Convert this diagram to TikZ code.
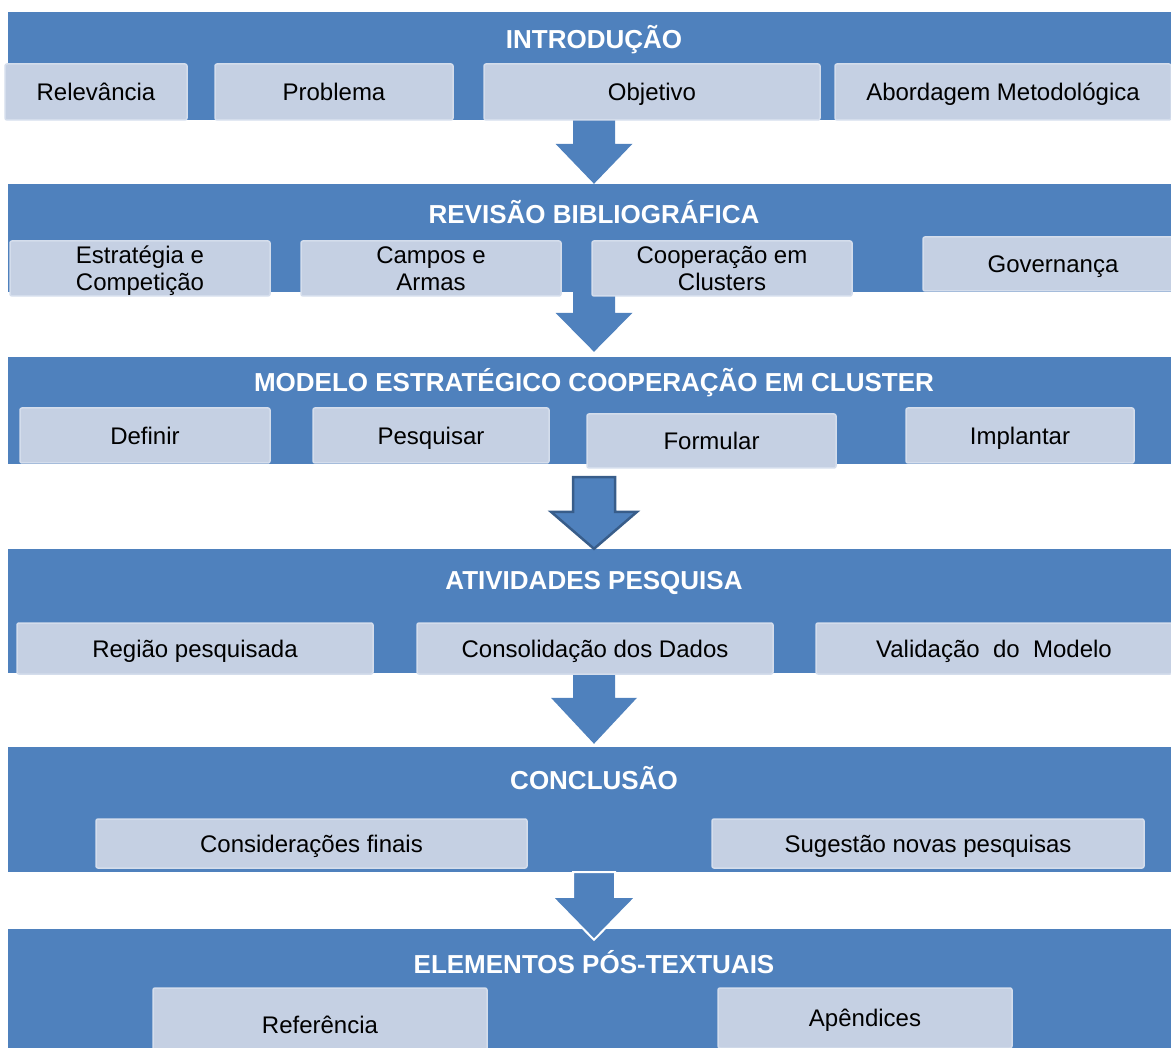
\documentclass[tikz,border=0pt]{standalone}
\usepackage{fontspec}
\setmainfont{Liberation Sans}
\usepackage{tikz}
\usetikzlibrary{calc}
\definecolor{bandblue}{RGB}{79,129,189}
\definecolor{boxfill}{RGB}{197,208,227}
\definecolor{boxline}{RGB}{212,221,236}
\definecolor{arrowline}{RGB}{56,93,138}
\tikzset{
  band/.style={
    rectangle, fill=bandblue, minimum width=1172pt, inner sep=0pt
  },
  bandtitle/.style={font=\fontsize{26}{30}\selectfont\bfseries, text=white, inner sep=0pt},
  item/.style={
    rectangle, fill=boxfill, draw=boxline, line width=1.5pt, rounded corners=2pt,
    inner sep=2pt, text depth=0pt, align=center, font=\fontsize{24}{27}\selectfont
  },
  flowarrow/.style={fill=bandblue, line join=miter},
}
% block arrow: [style]{tail}{tip}{head length}{head half width}
\newcommand{\bandarrow}[5][]{%
  \path[flowarrow,#1] ($(#2)+(-21,0)$) -- ($(#2)+(21,0)$) -- ($(#3)+(21,-#4)$)
    -- ($(#3)+(#5,-#4)$) -- (#3) -- ($(#3)+(-#5,-#4)$) -- ($(#3)+(-21,-#4)$) -- cycle;}

\begin{document}
\begin{tikzpicture}[x=1pt, y=-1pt]
  \useasboundingbox (0,0) rectangle (1171,1048);
  \clip (0,0) rectangle (1171,1048);

  % bands
  \node[band, minimum height=108pt] (b1) at (594,66) {};
  \node[band, minimum height=108pt] (b2) at (594,238) {};
  \node[band, minimum height=107pt] (b3) at (594,410.5) {};
  \node[band, minimum height=124pt] (b4) at (594,611) {};
  \node[band, minimum height=125pt] (b5) at (594,809.5) {};
  \node[band, minimum height=131pt] (b6) at (594,994.5) {};

  \node[bandtitle] (t1) at (594,40) {INTRODUÇÃO};
  \node[bandtitle] (t2) at (594,212) {REVISÃO BIBLIOGRÁFICA};
  \node[bandtitle] (t3) at (594,383) {MODELO ESTRATÉGICO COOPERAÇÃO EM CLUSTER};
  \node[bandtitle] (t4) at (594,583) {ATIVIDADES PESQUISA};
  \node[bandtitle] (t5) at (594,778) {CONCLUSÃO};
  \node[bandtitle] (t6) at (594,962) {ELEMENTOS PÓS-TEXTUAIS};

  % arrows between the bands
  \coordinate (tip2) at ($(b3.north)+(0,-5)$);
  \coordinate (tail3) at ($(b3.south)+(0,13)$);
  \coordinate (tip4) at ($(b5.north)+(0,-3)$);
  \coordinate (tip5) at ($(b6.north)+(0,11)$);
  \bandarrow{b1.south}{b2.north}{40}{38.5}
  \bandarrow{b2.south}{tip2}{39}{38.5}
  \bandarrow[draw=arrowline, line width=2.5pt]{tail3}{b4.north}{37}{43}
  \bandarrow{b4.south}{tip4}{46}{43}
  \bandarrow[draw=white, line width=2pt]{b5.south}{tip5}{43}{42}

  % boxes
  \node[item, minimum width=182, minimum height=56] (relev) at (96,92) {Relevância};
  \node[item, minimum width=238, minimum height=56] (probl) at (334,92) {Problema};
  \node[item, minimum width=336, minimum height=56] (objet) at (652,92) {Objetivo};
  \node[item, minimum width=336, minimum height=56] (abord) at (1003,92) {Abordagem Metodológica};

  \node[item, minimum width=260, minimum height=55] (estrat) at (140,268.5) {Estratégia e\\Competição};
  \node[item, minimum width=260, minimum height=55] (campos) at (431,268.5) {Campos e\\Armas};
  \node[item, minimum width=260, minimum height=55] (coop) at (722,268.5) {Cooperação em\\Clusters};
  \node[item, minimum width=260, minimum height=54] (gov) at (1053,264) {Governança};

  \node[item, minimum width=250, minimum height=55] (defin) at (145,435.5) {Definir};
  \node[item, minimum width=236, minimum height=55] (pesq) at (431,435.5) {Pesquisar};
  \node[item, minimum width=249, minimum height=54] (formul) at (711.5,441) {Formular};
  \node[item, minimum width=228, minimum height=55] (implan) at (1020,435.5) {Implantar};

  \node[item, minimum width=356, minimum height=51] (regiao) at (195,648.5) {Região pesquisada};
  \node[item, minimum width=356, minimum height=51] (consol) at (595,648.5) {Consolidação dos Dados};
  \node[item, minimum width=356, minimum height=51] (valid) at (994,648.5) {Validação\ \ do\ \ Modelo};

  \node[item, minimum width=431, minimum height=49] (consid) at (311.5,843.5) {Considerações finais};
  \node[item, minimum width=432, minimum height=49] (suges) at (928,843.5) {Sugestão novas pesquisas};

  \node[item, minimum width=334, minimum height=74] (refer) at (320,1025) {Referência};
  \node[item, minimum width=294, minimum height=60] (apend) at (865,1018) {Apêndices};
\end{tikzpicture}
\end{document}
